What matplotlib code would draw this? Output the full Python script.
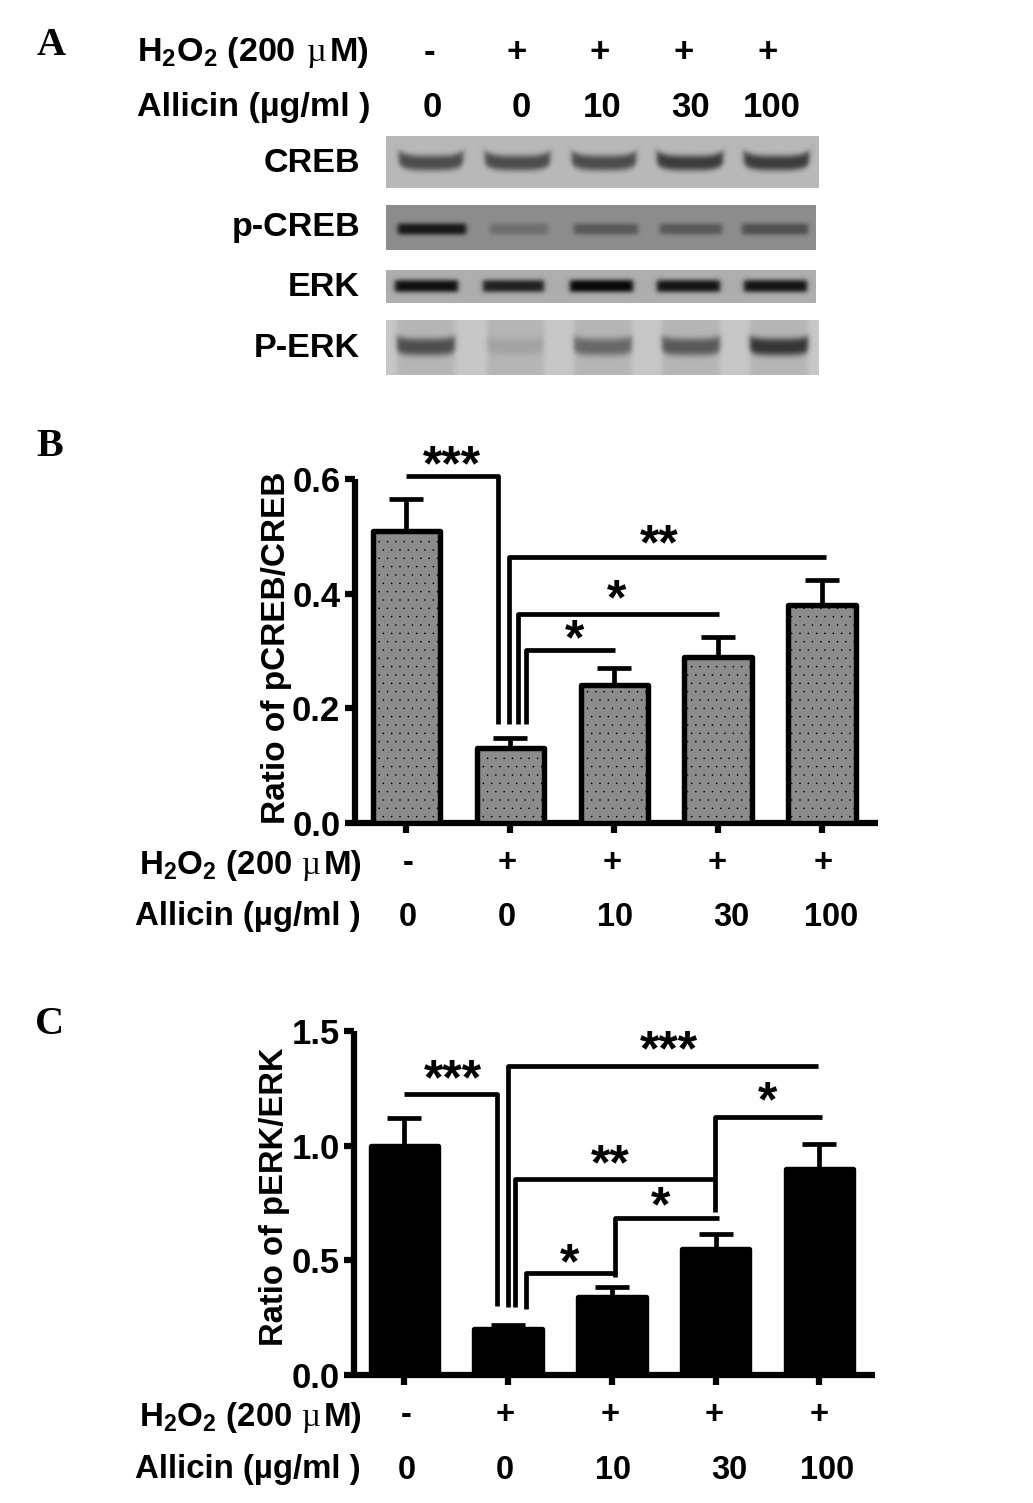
import numpy as np
import matplotlib
matplotlib.use('Agg')
import matplotlib.pyplot as plt

plt.rcParams['font.family'] = ['Liberation Sans', 'DejaVu Sans']
plt.rcParams['mathtext.default'] = 'regular'
plt.rcParams['hatch.linewidth'] = 0.0

W, H = 1033, 1503

# bar data
creb_means = [0.51, 0.13, 0.24, 0.29, 0.38]
creb_errs = [0.055, 0.017, 0.03, 0.035, 0.043]
erk_means = [1.0, 0.2, 0.34, 0.55, 0.9]
erk_errs = [0.12, 0.02, 0.045, 0.065, 0.107]

h2o2_labels = ['-', '+', '+', '+', '+']
allicin_labels = ['0', '0', '10', '30', '100']

# significance brackets, polylines in data units of each panel
creb_bracket_x = [[0, 0.88, 0.88], [0.983, 0.983, 4.04], [1.07, 1.07, 3.01], [1.149, 1.149, 2.01]]
creb_bracket_y = [[0.606, 0.606, 0.172], [0.172, 0.464, 0.464], [0.172, 0.365, 0.365], [0.172, 0.302, 0.302]]
creb_stars = ['***', '**', '*', '*']
creb_star_x = [0.44, 2.43, 2.02, 1.62]
creb_star_y = [0.638, 0.499, 0.403, 0.333]

erk_bracket_x = [[0, 0.89, 0.89], [0.996, 0.996, 3.985], [1.066, 1.066, 2.998],
                 [2.998, 2.998, 4.028], [2.026, 2.026, 3.035], [1.173, 1.173, 2.026]]
erk_bracket_y = [[1.227, 1.227, 0.302], [0.297, 1.346, 1.346], [0.297, 0.856, 0.856],
                 [0.712, 1.125, 1.125], [0.426, 0.683, 0.683], [0.287, 0.443, 0.443]]
erk_stars = ['***', '***', '*', '**', '*', '*']
erk_star_x = [0.465, 2.553, 3.5, 1.99, 2.468, 1.59]
erk_star_y = [1.323, 1.451, 1.225, 0.952, 0.771, 0.519]

# blot strips: name, background grey, band darkness per lane
blot_names = ['CREB', 'p-CREB', 'ERK', 'P-ERK']
blot_bg = [0.72, 0.55, 0.68, 0.78]
blot_depth = [
    [0.42, 0.42, 0.42, 0.48, 0.48],
    [0.46, 0.12, 0.2, 0.2, 0.24],
    [0.62, 0.55, 0.66, 0.6, 0.6],
    [0.4, 0.07, 0.3, 0.36, 0.5],
]
blot_lane_shade = [0.0, 0.0, 0.0, 0.07]


def px_axes(x0, y0, x1, y1):
    return fig.add_axes([x0 / W, 1 - y1 / H, (x1 - x0) / W, (y1 - y0) / H])


def txt(x, y, s, ha='center', size=24, **kw):
    kw.setdefault('fontweight', 'bold')
    fig.text(x / W, 1 - (y + 2.5) / H, s, ha=ha, va='center', fontsize=size, color='black', **kw)


def band_strip(rect, bg, depth, lanes, yc, sig, smile, shade):
    x0, y0, x1, y1 = rect
    xx, yy = np.meshgrid(np.arange(x0, x1) + 0.5, np.arange(y0, y1) + 0.5)
    img = np.full(xx.shape, bg, dtype=float)
    for (l, r), d in zip(lanes, depth):
        prof = 0.5 * (np.tanh((xx - l) / 3) - np.tanh((xx - r) / 3))
        u = (xx - (l + r) / 2) / ((r - l) / 2)
        img -= shade * prof
        img -= d * prof * np.exp(-(np.abs(yy - yc + smile * u ** 4) / sig) ** 3)
    ax = px_axes(x0, y0, x1, y1)
    ax.imshow(np.clip(img, 0.04, 1), cmap='gray', vmin=0, vmax=1, aspect='auto', interpolation='bilinear')
    ax.axis('off')


def bar_panel(rect, xlim, ylim, yticks, ticklabels, means, errs, hatch, face, ylabel, ylab_pos, ylab_size,
              br_x, br_y, stars, sx, sy):
    ax = px_axes(*rect)
    x = np.arange(len(means))
    bars = ax.bar(x, means, width=0.65, color=face, edgecolor='black', linewidth=3.9, hatch=hatch, zorder=3)
    for b in bars:
        b.set_joinstyle('round')
    ax.errorbar(x, means, yerr=[np.zeros(len(errs)), errs], fmt='none', ecolor='black',
                elinewidth=3.4, capsize=12.5, capthick=3.4, zorder=2, clip_on=False)
    for bx, by in zip(br_x, br_y):
        ax.plot(bx, by, color='black', lw=3.4, solid_joinstyle='round', solid_capstyle='butt',
                clip_on=False, zorder=4)
    for s, a, b in zip(stars, sx, sy):
        ax.annotate(s, (a, b), xytext=(0, -7), textcoords='offset points', ha='center', va='center',
                    fontsize=36, fontweight='bold', annotation_clip=False)
    ax.set_xlim(*xlim)
    ax.set_ylim(*ylim)
    ax.set_yticks(yticks)
    ax.set_yticklabels(ticklabels, fontsize=25, fontweight='bold')
    ax.set_xticks(x)
    ax.set_xticklabels([])
    ax.tick_params(axis='both', length=7.2, width=4.5, pad=3)
    for s in ['top', 'right']:
        ax.spines[s].set_visible(False)
    for s in ['left', 'bottom']:
        ax.spines[s].set_linewidth(4.5)
        ax.spines[s].set_capstyle('butt')
    ax.patch.set_alpha(0)
    txt(ylab_pos[0], ylab_pos[1], ylabel, rotation=90, size=ylab_size)
    return ax


def row_labels(h_x, h_row_y, a_x, a_row_y, h_xs, h_y, a_xs, a_y, mu_off, m_off, size, num_size):
    txt(h_x, h_row_y, 'H$_2$O$_2$ (200', ha='left', size=size)
    txt(h_x + mu_off, h_row_y, '\u00b5', ha='left', size=size, fontweight='normal', family=['Liberation Serif'])
    txt(h_x + m_off, h_row_y, 'M)', ha='left', size=size)
    txt(a_x, a_row_y, 'Allicin (\u00b5g/ml )', ha='left', size=size)
    for xp, s in zip(h_xs, h2o2_labels):
        txt(xp, h_y, s, size=num_size)
    for xp, s in zip(a_xs, allicin_labels):
        txt(xp, a_y, s, size=num_size)


fig = plt.figure(figsize=(W / 100, H / 100), dpi=100)

# panel A
row_labels(137, 50, 137, 105, [429, 517, 600, 684, 768], 50, [432, 521, 602, 691, 772], 105, 170, 193, 24.6, 25)

lanes_creb = [(399, 463), (485, 550), (572, 636), (657, 723), (744, 809)]
lanes_pcreb = [(398, 466), (490, 548), (574, 638), (660, 722), (742, 808)]
lanes_erk = [(395, 458), (483, 544), (570, 633), (657, 720), (744, 807)]
lanes_perk = [(397, 455), (487, 544), (574, 632), (662, 720), (750, 808)]

band_strip((386, 136, 819, 188), blot_bg[0], blot_depth[0], lanes_creb, 163, 8, 5, blot_lane_shade[0])
band_strip((386, 205, 816, 250), blot_bg[1], blot_depth[1], lanes_pcreb, 229, 6, 0, blot_lane_shade[1])
band_strip((386, 270, 816, 303), blot_bg[2], blot_depth[2], lanes_erk, 286, 6.5, 0, blot_lane_shade[2])
band_strip((386, 320, 819, 375), blot_bg[3], blot_depth[3], lanes_perk, 347, 9, 3, blot_lane_shade[3])

for name, yp in zip(blot_names, [161, 225, 285, 346]):
    txt(360, yp, name, ha='right', size=24.6)

# panel B
bar_panel((354.5, 479, 878, 822.7), (-0.5, 4.538), (0, 0.6), [0, 0.2, 0.4, 0.6],
          ['0.0', '0.2', '0.4', '0.6'], creb_means, creb_errs, '..', '#8c8c8c',
          'Ratio of pCREB/CREB', (276, 645), 24, creb_bracket_x, creb_bracket_y,
          creb_stars, creb_star_x, creb_star_y)
row_labels(139, 863, 135, 914, [408, 507, 612, 717, 823], 861, [408, 507, 615, 731, 831], 915, 163, 185, 23.8, 23.5)

# panel C
bar_panel((353.8, 1031, 874.8, 1375), (-0.488, 4.536), (0, 1.5), [0, 0.5, 1.0, 1.5],
          ['0.0', '0.5', '1.0', '1.5'], erk_means, erk_errs, None, 'black',
          'Ratio of pERK/ERK', (275, 1194), 23.6, erk_bracket_x, erk_bracket_y,
          erk_stars, erk_star_x, erk_star_y)
row_labels(139, 1415, 135, 1467, [406, 505, 610, 714, 819], 1413, [407, 505, 613, 729, 827], 1468, 163, 185, 23.8, 23.5)

# panel letters
for s, xp, yp in [('A', 51, 43), ('B', 50, 444), ('C', 50, 1022)]:
    txt(xp, yp, s, size=29, family=['Liberation Serif'])

fig.savefig('out.png', dpi=100)
